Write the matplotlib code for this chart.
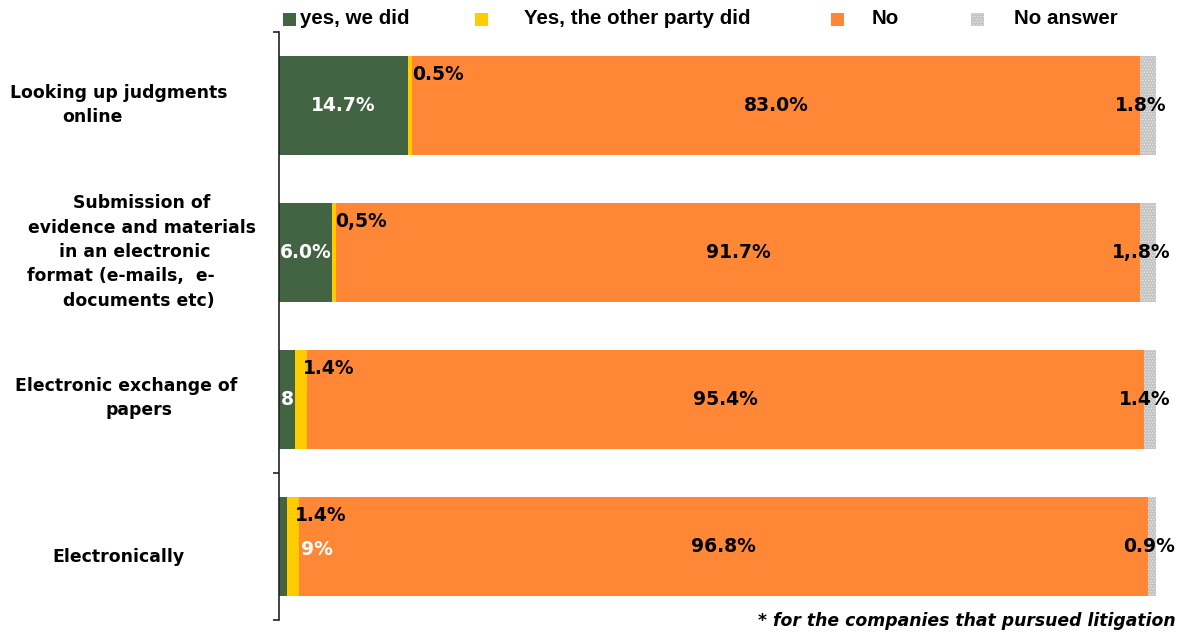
import numpy as np
import matplotlib.pyplot as plt
from matplotlib.patches import Rectangle

# survey answers, % of respondents
categories = ['Looking up judgments\nonline',
              'Submission of\nevidence and materials\nin an electronic\nformat (e-mails,  e-\ndocuments etc)',
              'Electronic exchange of\npapers',
              'Electronically']
series_names = ['yes, we did', 'Yes, the other party did', 'No', 'No answer']
yes_we = [14.7, 6.0, 1.8, 0.9]
yes_other = [0.5, 0.5, 1.4, 1.4]
no = [83.0, 91.7, 95.4, 96.8]
no_answer = [1.8, 1.8, 1.4, 0.9]

# labels as printed on the chart
lbl_yes_we = ['14.7%', '6.0%', '8', '9%']
lbl_yes_other = ['0.5%', '0,5%', '1.4%', '1.4%']
lbl_no = ['83.0%', '91.7%', '95.4%', '96.8%']
lbl_no_answer = ['1.8%', '1,.8%', '1.4%', '0.9%']

green = '#436443'
yellow = '#ffcc00'
orange = '#ff8736'
grey = '#c4c4c4'

W, H = 1178, 633
fig = plt.figure(figsize=(W / 100, H / 100), dpi=100)
plt.rcParams['hatch.linewidth'] = 0.6

def fx(px):
    return px / W

def fy(py):
    return 1 - py / H

ax = fig.add_axes([fx(279), fy(620), fx(1156) - fx(279), fy(32) - fy(620)])

y = np.arange(len(categories))
h = 0.667
left = np.zeros(len(categories))
colors = [green, yellow, orange, grey]
for vals, c, name in zip([yes_we, yes_other, no, no_answer], colors, series_names):
    if c == grey:
        ax.barh(y, vals, h, left=left, color=c, hatch='......', edgecolor='#e6e6e6', linewidth=0)
    else:
        ax.barh(y, vals, h, left=left, color=c, linewidth=0)
    left = left + np.array(vals)

ax.set_xlim(0, 100)
ax.set_ylim(3.5, -0.5)
for s in ['top', 'right', 'bottom']:
    ax.spines[s].set_visible(False)
ax.spines['left'].set_linewidth(1.2)
ax.spines['left'].set_color('#222222')
ax.set_xticks([])
ax.set_yticks([-0.5, 2.5, 3.5])
ax.set_yticklabels([])
ax.tick_params(axis='y', length=4, width=1.2, direction='out', color='#222222')

lab = dict(fontsize=13.5, fontweight='bold', family='DejaVu Sans')
for i in range(len(categories)):
    g_end = yes_we[i]
    y_end = g_end + yes_other[i]
    n_end = y_end + no[i]
    # green segment label, except the last row where it sits right of the yellow bit
    if i < 3:
        ax.text(g_end / 2, i, lbl_yes_we[i], ha='center', va='center', color='white', **lab)
    else:
        ax.text(y_end + 0.25, i + 0.02, lbl_yes_we[i], ha='left', va='center', color='white', **lab)
    ax.text(g_end + yes_other[i] / 2 + 0.2, i - 0.21, lbl_yes_other[i], ha='left', va='center',
            color='black', **lab)
    ax.text(y_end + no[i] / 2, i, lbl_no[i], ha='center', va='center', color='black', **lab)
    ax.text(n_end + 0.1, i, lbl_no_answer[i], ha='center', va='center', color='black', **lab)

# category labels, drawn line by line
line_x = [[119, 92], [142, 142, 135, 121, 139], [126, 139], [118]]
row_py = [105, 252, 398, 557]
for i, cat in enumerate(categories):
    lines = cat.split('\n')
    n = len(lines)
    for j, line in enumerate(lines):
        py = row_py[i] + (j - (n - 1) / 2) * 24.3
        fig.text(fx(line_x[i][j]), fy(py), line, ha='center', va='center',
                 fontsize=12.4, fontweight='bold', family='DejaVu Sans')

# legend
leg_box_x = [283, 475, 831, 971]
leg_txt_x = [300, 524, 872, 1014]
for bx, tx, c, name in zip(leg_box_x, leg_txt_x, colors, series_names):
    r = Rectangle((fx(bx), fy(26)), fx(13), 13 / H, transform=fig.transFigure,
                  facecolor=c, edgecolor='#e6e6e6' if c == grey else c,
                  hatch='......' if c == grey else None, linewidth=0)
    fig.patches.append(r)
    fig.text(fx(tx), fy(19), name, ha='left', va='center', fontsize=14.8, fontweight='bold',
             family=['Liberation Sans Narrow', 'Liberation Sans'])

fig.text(fx(1176), fy(621), '* for the companies that pursued litigation', ha='right', va='center',
         fontsize=12.4, fontweight='bold', fontstyle='italic', family='DejaVu Sans')

plt.savefig('out.png', dpi=100)
plt.close('all')
